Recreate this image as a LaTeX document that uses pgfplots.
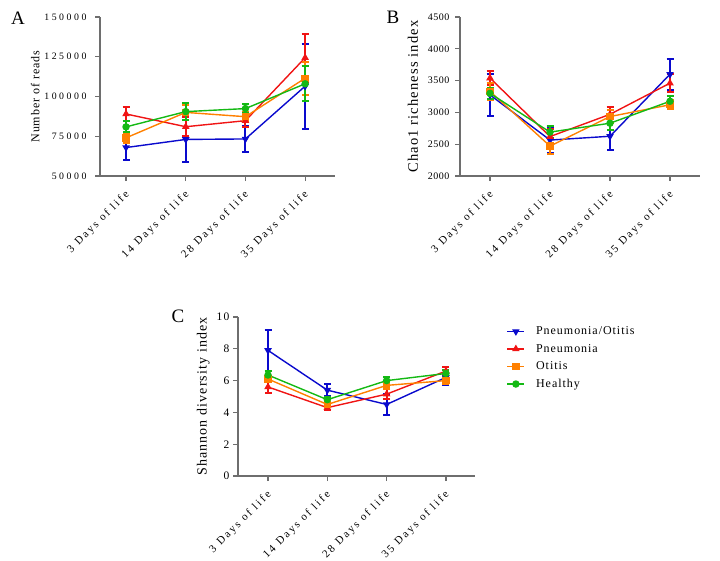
\documentclass[border=0pt]{standalone}
\usepackage{fontspec}
\setmainfont{Liberation Serif}
\usepackage{pgfplots}
\pgfplotsset{compat=1.18}
\newfontfamily\spacedX[LetterSpace=20]{Liberation Serif}
\newfontfamily\spacedA[LetterSpace=26]{Liberation Serif}
\newfontfamily\spacedB[LetterSpace=5]{Liberation Serif}
\newfontfamily\spacedC[LetterSpace=12]{Liberation Serif}
\newfontfamily\spacedmid[LetterSpace=8]{Liberation Serif}
\definecolor{cblue}{RGB}{10,10,205}
\definecolor{cred}{RGB}{240,20,20}
\definecolor{corange}{RGB}{255,128,0}
\definecolor{cgreen}{RGB}{20,185,20}
\definecolor{axgray}{RGB}{110,110,110}
\pgfplotsset{
  prism/.style={
    scale only axis, axis lines=left,
    axis line style={-, draw=axgray, line width=1.2pt},
    tick style={draw=axgray, line width=1.2pt}, tick align=outside, major tick length=5pt,
    xtick={0,1,2,3},
    xticklabels={3 Days of life,14 Days of life,28 Days of life,35 Days of life},
    xticklabel style={font=\spacedX\fontsize{11}{12}\selectfont, xshift=-2pt, yshift=-7pt, rotate=45, anchor=north east, inner sep=1pt},
    scaled y ticks=false,
    /pgf/number format/.cd, fixed, 1000 sep={}, assume math mode=true,
    /pgfplots/.cd,
    clip=false,
  },
  errs/.style={line width=1.4pt, mark size=3pt,
    error bars/.cd, y dir=both, y explicit,
    error bar style={line width=2pt},
    error mark options={rotate=90, mark size=3.5pt, line width=2pt}},
  s1/.style={color=cblue, mark=triangle*, mark options={rotate=180}, errs},
  s2/.style={color=cred, mark=triangle*, errs},
  s3/.style={color=corange, mark=square*, mark size=2.6pt, errs},
  s4/.style={color=cgreen, mark=*, errs},
}
\pgfplotstableread{
x y e
0 67900 7900
1 73000 14500
2 73300 8000
3 106500 26800
}\Ablue
\pgfplotstableread{
x y e
0 89000 4400
1 81000 6000
2 84800 3800
3 124400 15000
}\Ared
\pgfplotstableread{
x y e
0 74000 3000
1 90000 4500
2 87300 3000
3 111500 10500
}\Aorange
\pgfplotstableread{
x y e
0 80900 3500
1 90500 5500
2 92400 3000
3 108000 11000
}\Agreen
\pgfplotstableread{
x y e
0 3275 335
1 2565 210
2 2625 220
3 3600 245
}\Bblue
\pgfplotstableread{
x y e
0 3540 115
1 2620 115
2 2970 115
3 3460 140
}\Bred
\pgfplotstableread{
x y e
0 3330 130
1 2470 120
2 2935 100
3 3120 70
}\Borange
\pgfplotstableread{
x y e
0 3300 90
1 2690 90
2 2830 100
3 3175 90
}\Bgreen
\pgfplotstableread{
x y e
0 7.9 1.3
1 5.4 0.38
2 4.5 0.65
3 6.2 0.45
}\Cblue
\pgfplotstableread{
x y e
0 5.6 0.4
1 4.3 0.13
2 5.15 0.3
3 6.6 0.25
}\Cred
\pgfplotstableread{
x y e
0 6.1 0.2
1 4.5 0.15
2 5.7 0.2
3 6.0 0.2
}\Corange
\pgfplotstableread{
x y e
0 6.35 0.25
1 4.8 0.2
2 6.0 0.2
3 6.45 0.2
}\Cgreen
\begin{document}
\begin{tikzpicture}
\path[use as bounding box] (0pt,0pt) rectangle (720pt,-560pt);
% Panel A
\begin{axis}[prism, at={(100pt,-176pt)}, anchor=south west,
  width=235pt, height=159pt, xmin=-0.436, xmax=3.5, ymin=50000, ymax=150000,
  ytick={50000,75000,100000,125000,150000},
  yticklabel style={font=\spacedA\fontsize{9.8}{11}\selectfont, xshift=-5pt},
  ylabel={Number of reads}, ylabel shift=-2pt,
  ylabel style={font=\spacedmid\fontsize{12}{14}\selectfont}]
\addplot[s1] table[x=x,y=y,y error=e]{\Ablue};
\addplot[s2] table[x=x,y=y,y error=e]{\Ared};
\addplot[s3] table[x=x,y=y,y error=e]{\Aorange};
\addplot[s4] table[x=x,y=y,y error=e]{\Agreen};
\end{axis}
% Panel B
\begin{axis}[prism, at={(460pt,-176pt)}, anchor=south west,
  width=240pt, height=159pt, xmin=-0.5, xmax=3.5, ymin=2000, ymax=4500,
  ytick={2000,2500,3000,3500,4000,4500},
  yticklabel style={font=\spacedB\fontsize{10}{12}\selectfont, xshift=-2pt},
  ylabel={Chao1 richeness index}, ylabel shift=3pt,
  ylabel style={font=\spacedmid\fontsize{14.5}{16}\selectfont}]
\addplot[s1] table[x=x,y=y,y error=e]{\Bblue};
\addplot[s2] table[x=x,y=y,y error=e]{\Bred};
\addplot[s3] table[x=x,y=y,y error=e]{\Borange};
\addplot[s4] table[x=x,y=y,y error=e]{\Bgreen};
\end{axis}
% Panel C
\begin{axis}[prism, at={(238pt,-476pt)}, anchor=south west,
  width=237pt, height=159pt, xmin=-0.506, xmax=3.49, ymin=0, ymax=10,
  ytick={0,2,4,6,8,10},
  yticklabel style={font=\spacedC\fontsize{11.5}{13}\selectfont},
  ylabel={Shannon diversity index},
  ylabel style={font=\spacedmid\fontsize{14}{16}\selectfont},
  legend style={at={(rel axis cs:1.12,0.965)}, anchor=north west, draw=none, fill=none,
    font=\spacedmid\fontsize{12}{13}\selectfont, row sep=4pt, column sep=9pt},
  legend cell align=left]
\addplot[s1] table[x=x,y=y,y error=e]{\Cblue};
\addplot[s2] table[x=x,y=y,y error=e]{\Cred};
\addplot[s3] table[x=x,y=y,y error=e]{\Corange};
\addplot[s4] table[x=x,y=y,y error=e]{\Cgreen};
\legend{Pneumonia/Otitis,Pneumonia,Otitis,Healthy}
\end{axis}
\node[font=\fontsize{19}{20}\selectfont] at (18pt,-18pt) {A};
\node[font=\fontsize{19}{20}\selectfont] at (393pt,-17pt) {B};
\node[font=\fontsize{19}{20}\selectfont] at (178pt,-316pt) {C};
\end{tikzpicture}
\end{document}
